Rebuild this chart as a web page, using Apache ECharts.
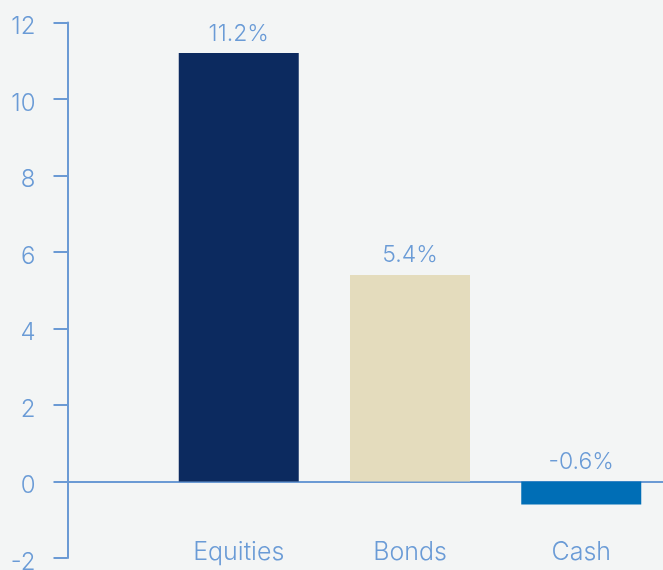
<!DOCTYPE html>
<html><head><meta charset="utf-8">
<script src="https://cdn.jsdelivr.net/npm/echarts@6/dist/echarts.min.js"></script>
<style>html,body{margin:0;padding:0;background:#f3f5f5;}#c{width:663px;height:570px;}</style>
</head><body><div id="c"></div>
<script>
const categories = ['', 'Equities', 'Bonds', 'Cash', ''];
const values = [null, 11.2, 5.4, -0.6, null];
const barColors = ['#0c2a5f', '#0c2a5f', '#e4dcbd', '#006eb6', '#006eb6'];
const yTicks = { min: -2, max: 12, interval: 2 };
const txt = '#6a9bd6';
const lineC = '#6b9ad4';
const font = 'Inter';
const chart = echarts.init(document.getElementById('c'));
chart.setOption({
  backgroundColor: '#f3f5f5',
  animation: false,
  grid: { left: 67.5, right: -89.5, top: 22.5, bottom: 12, containLabel: false, outerBoundsMode: 'none' },
  xAxis: {
    type: 'category', data: categories, boundaryGap: false,
    axisLine: { show: false, onZero: false },
    axisTick: { show: false },
    axisLabel: { color: txt, fontSize: 25, fontFamily: font, fontWeight: 300, margin: -18, interval: 0 }
  },
  yAxis: {
    type: 'value', min: yTicks.min, max: yTicks.max, interval: yTicks.interval,
    axisLine: { show: true, onZero: false, lineStyle: { color: lineC, width: 2 } },
    axisTick: { show: true, length: 14, lineStyle: { color: lineC, width: 2 } },
    splitLine: { show: false },
    axisLabel: { color: txt, fontSize: 24, fontFamily: font, fontWeight: 300, margin: 32, verticalAlign: 'top', lineHeight: 9 }
  },
  series: [{
    type: 'bar', barWidth: 120, clip: false,
    data: values.map((v, i) => ({ value: v, itemStyle: { color: barColors[i] } })),
    label: { show: true, position: 'top', distance: 8, color: txt, fontSize: 23, fontFamily: font, fontWeight: 300,
      formatter: p => p.value == null ? '' : p.value.toFixed(1) + '%' },
    markLine: {
      silent: true, symbol: 'none', z: 1,
      label: { show: false },
      lineStyle: { color: lineC, width: 2, type: 'solid' },
      data: [{ yAxis: 0 }]
    }
  }]
});
</script></body></html>
